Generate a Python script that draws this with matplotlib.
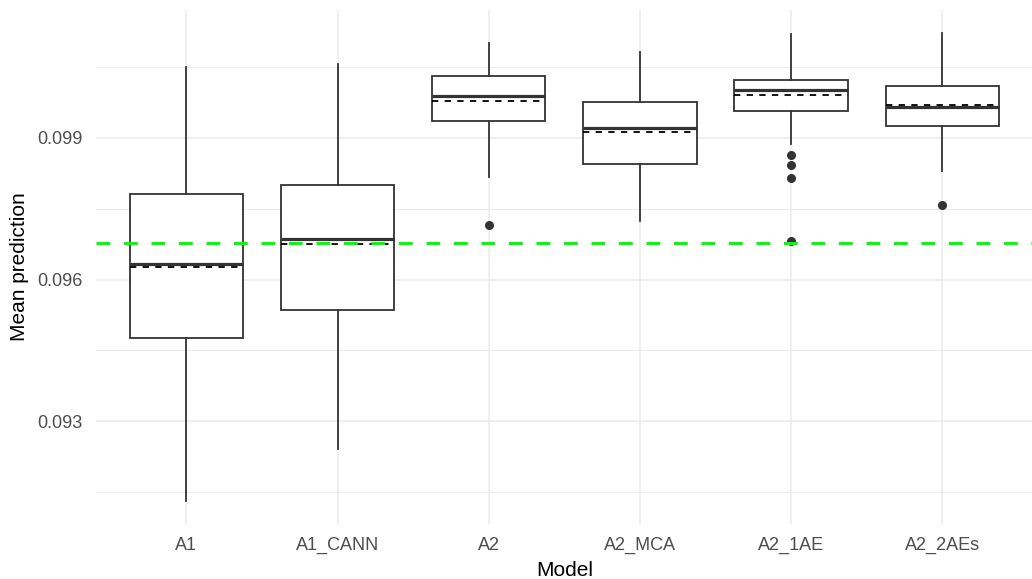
import matplotlib
matplotlib.use("Agg")
import matplotlib.pyplot as plt
from matplotlib.ticker import MultipleLocator

matplotlib.rcParams['font.family'] = ['Liberation Sans', 'DejaVu Sans']

# data
models = ["A1", "A1_CANN", "A2", "A2_MCA", "A2_1AE", "A2_2AEs"]
whisker_low = [0.09131, 0.09240, 0.09817, 0.09724, 0.09888, 0.09830]
q1 = [0.09477, 0.09535, 0.09935, 0.09844, 0.09957, 0.09925]
median = [0.09633, 0.09685, 0.09988, 0.09921, 0.10001, 0.09965]
q3 = [0.09781, 0.09800, 0.10031, 0.09977, 0.10022, 0.10009]
whisker_high = [0.10051, 0.10056, 0.10101, 0.10081, 0.10120, 0.10123]
mean = [0.09626, 0.09675, 0.09978, 0.09912, 0.09990, 0.09969]
outliers = [[], [], [0.09715], [], [0.09864, 0.09842, 0.09815, 0.09681], [0.09757]]
reference = 0.09678

box_col = "#333333"

fig = plt.figure(figsize=(10.32, 5.79), dpi=100)
ax = fig.add_axes([95.6 / 1032, 55 / 579, 937.4 / 1032, 514 / 579])

positions = list(range(1, len(models) + 1))
width = 0.75

stats = []
for i, m in enumerate(models):
    stats.append(dict(label=m, whislo=whisker_low[i], q1=q1[i], med=median[i],
                      q3=q3[i], whishi=whisker_high[i], fliers=outliers[i]))

ax.bxp(stats, positions=positions, widths=width, showcaps=False, patch_artist=True,
       boxprops=dict(facecolor="white", edgecolor=box_col, linewidth=1.3),
       whiskerprops=dict(color=box_col, linewidth=1.3),
       medianprops=dict(color=box_col, linewidth=2.3),
       flierprops=dict(marker="o", markerfacecolor=box_col, markeredgecolor=box_col,
                       markersize=5.5, linestyle="none"),
       zorder=3)

# mean as dashed line across each box
for p, mv in zip(positions, mean):
    ax.hlines(mv, p - width / 2, p + width / 2, colors="black", linestyles=(0, (3.5, 3.5)),
              linewidth=1.3, zorder=4)

ax.axhline(reference, color="#00ff00", linestyle=(0, (4.5, 4.5)), linewidth=2.2, zorder=5)

ax.set_xlim(0.4, 6.6)
ax.set_ylim(0.09082, 0.10171)
ax.yaxis.set_major_locator(MultipleLocator(0.003))
ax.yaxis.set_minor_locator(MultipleLocator(0.0015))
ax.set_xticks(positions)
ax.set_xticklabels(models)
ax.yaxis.set_major_formatter(matplotlib.ticker.FuncFormatter(lambda v, _: f"{v:.3f}"))

ax.grid(which="major", color="#ebebeb", linewidth=1.1, zorder=0)
ax.grid(which="minor", axis="y", color="#ebebeb", linewidth=0.7, zorder=0)
ax.set_axisbelow(True)
for s in ax.spines.values():
    s.set_visible(False)
ax.tick_params(which="both", length=0, labelsize=13, labelcolor="#4d4d4d", pad=9.5)

ax.set_xlabel("Model", fontsize=15, color="black", labelpad=4.5)
ax.set_ylabel("Mean prediction", fontsize=15, color="black", labelpad=6)

plt.savefig("out.png", dpi=100)
